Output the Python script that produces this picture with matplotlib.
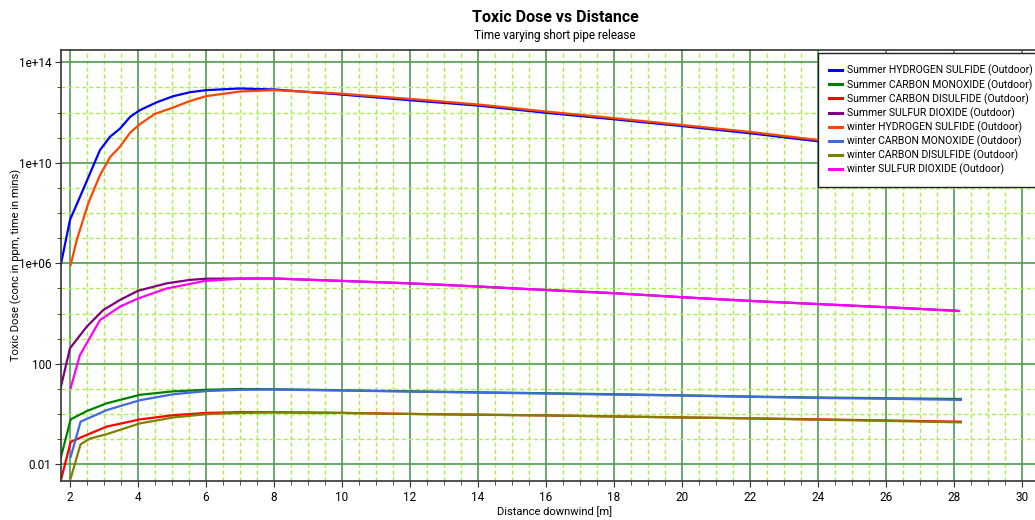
import numpy as np
import matplotlib
matplotlib.use('Agg')
import matplotlib.pyplot as plt
from matplotlib.ticker import FixedLocator, MultipleLocator, FuncFormatter

plt.rcParams['font.family'] = ['Roboto', 'DejaVu Sans']

# 数据：距离 [m] 与毒性剂量
summer_x = [1.73, 2.0, 2.34, 2.88, 3.18, 3.47, 3.77, 4.06, 4.56, 5.04, 5.54, 6.0, 7.0, 8.0,
            10, 12, 14, 16, 18, 20, 22, 24, 26, 28.2]
summer_h2s = [8.9e5, 5.4e7, 6.2e8, 3.2e10, 1.1e11, 2.3e11, 6.8e11, 1.26e12, 2.6e12, 4.5e12,
              6.5e12, 7.8e12, 9.1e12, 8.3e12, 5.2e12, 3.1e12, 1.9e12, 9.8e11, 5.4e11, 2.9e11,
              1.5e11, 7.2e10, 3.5e10, 1.6e10]

winter_h2s_x = [2.02, 2.2, 2.54, 2.88, 3.18, 3.47, 3.77, 4.06, 4.5, 5.04, 5.5, 6.0, 7.0, 8.0,
                9.5, 10, 12, 14, 16, 18, 20, 22, 24, 26, 28.2]
winter_h2s = [8.7e5, 8.7e6, 2.5e8, 3.2e9, 1.7e10, 4.4e10, 1.6e11, 3.5e11, 8.9e11, 1.6e12,
              2.8e12, 4.5e12, 6.9e12, 7.8e12, 6.2e12, 5.6e12, 3.5e12, 2.1e12, 1.1e12, 6.0e11,
              3.2e11, 1.7e11, 8.1e10, 4.0e10, 1.8e10]

summer_so2_x = [1.73, 2.0, 2.49, 2.98, 3.47, 4.0, 4.84, 5.53, 6.0, 7.0, 8.0, 10, 12, 14, 16,
                18, 20, 22, 24, 26, 28.1]
summer_so2 = [12, 420, 3.0e3, 1.4e4, 3.5e4, 8.1e4, 1.6e5, 2.2e5, 2.45e5, 2.5e5, 2.5e5, 2.0e5,
              1.6e5, 1.2e5, 8.7e4, 6.5e4, 4.5e4, 3.2e4, 2.4e4, 1.8e4, 1.3e4]

winter_so2_x = [2.02, 2.29, 2.88, 3.47, 4.0, 4.84, 5.97, 7.0, 8.0, 10, 12, 14, 16, 18, 20, 22,
                24, 26, 28.15]
winter_so2 = [11, 220, 5.5e3, 1.9e4, 4.0e4, 1.0e5, 2.0e5, 2.45e5, 2.5e5, 2.0e5, 1.6e5, 1.2e5,
              8.7e4, 6.5e4, 4.5e4, 3.2e4, 2.4e4, 1.8e4, 1.26e4]

summer_co_x = [1.73, 2.02, 2.49, 3.08, 4.06, 5.04, 6.02, 7.0, 8.0, 10, 12, 14, 16, 18, 20, 22,
               24, 26, 28.2]
summer_co = [0.019, 0.62, 1.32, 2.7, 5.9, 8.1, 9.3, 10.0, 9.8, 8.9, 8.1, 7.4, 6.8, 6.2, 5.6,
             5.0, 4.6, 4.3, 4.0]

winter_co_x = [2.02, 2.31, 3.08, 4.06, 5.04, 6.02, 7.0, 8.0, 10, 12, 14, 16, 18, 20, 22, 24,
               26, 28.2]
winter_co = [0.02, 0.5, 1.45, 3.6, 6.2, 8.3, 9.3, 9.5, 8.7, 7.9, 7.2, 6.6, 6.0, 5.5, 4.9, 4.4,
             4.1, 3.7]

summer_cs2_x = [1.73, 2.02, 2.59, 3.08, 4.06, 5.04, 6.02, 7.0, 8.0, 10, 12, 14, 16, 18, 20,
                22, 24, 26, 28.2]
summer_cs2 = [0.0023, 0.079, 0.17, 0.32, 0.62, 0.91, 1.12, 1.2, 1.2, 1.12, 1.02, 0.95, 0.89,
              0.81, 0.74, 0.68, 0.62, 0.56, 0.50]

winter_cs2_x = [2.02, 2.31, 2.59, 3.08, 4.06, 5.04, 6.02, 7.0, 8.0, 10, 12, 14, 16, 18, 20,
                22, 24, 26, 28.2]
winter_cs2 = [0.0028, 0.063, 0.107, 0.16, 0.43, 0.74, 1.0, 1.12, 1.17, 1.12, 1.02, 0.95, 0.89,
              0.81, 0.74, 0.68, 0.60, 0.54, 0.47]

series = [
    ('Summer HYDROGEN SULFIDE (Outdoor)', summer_x, summer_h2s, '#0000ff'),
    ('Summer CARBON MONOXIDE (Outdoor)', summer_co_x, summer_co, '#008000'),
    ('Summer CARBON DISULFIDE (Outdoor)', summer_cs2_x, summer_cs2, '#ff0000'),
    ('Summer SULFUR DIOXIDE (Outdoor)', summer_so2_x, summer_so2, '#800080'),
    ('winter HYDROGEN SULFIDE (Outdoor)', winter_h2s_x, winter_h2s, '#ff4500'),
    ('winter CARBON MONOXIDE (Outdoor)', winter_co_x, winter_co, '#4169e1'),
    ('winter CARBON DISULFIDE (Outdoor)', winter_cs2_x, winter_cs2, '#808000'),
    ('winter SULFUR DIOXIDE (Outdoor)', winter_so2_x, winter_so2, '#ff00ff'),
]

y_ticks = [1e-2, 1e2, 1e6, 1e10, 1e14]
y_tick_labels = ['0.01', '100', '1e+06', '1e+10', '1e+14']

fig = plt.figure(figsize=(10.35, 5.2), dpi=100)
ax = fig.add_axes([61 / 1035, 1 - 481 / 520, 1 - 61 / 1035, (481 - 50) / 520])

for name, xs, ys, c in series:
    ax.plot(xs, ys, color=c, lw=1.6, label=name)

ax.set_yscale('log')
ax.set_xlim(1.735, 30.38)
ax.set_ylim(10 ** -2.66, 10 ** 14.49)

ax.xaxis.set_major_locator(MultipleLocator(2))
ax.xaxis.set_minor_locator(MultipleLocator(0.5))
ax.xaxis.set_major_formatter(FuncFormatter(lambda v, p: '%d' % v))
ax.yaxis.set_major_locator(FixedLocator(y_ticks))
ax.yaxis.set_major_formatter(FuncFormatter(lambda v, p: y_tick_labels[y_ticks.index(v)] if v in y_ticks else ''))
ax.yaxis.set_minor_locator(FixedLocator([10.0 ** k for k in range(-3, 16)]))
ax.yaxis.set_minor_formatter(FuncFormatter(lambda v, p: ''))

ax.grid(True, which='minor', color='#a6f04a', ls=(0, (3, 2)), lw=1.0)
ax.grid(True, which='major', color='#4e9e4e', ls='-', lw=1.2)
ax.set_axisbelow(True)

ax.tick_params(axis='both', which='major', labelsize=8.5, length=4, color='#333333', pad=3)
ax.tick_params(axis='both', which='minor', length=3, color='#333333')
for s in ['left', 'bottom', 'top']:
    ax.spines[s].set_color('#333333')
    ax.spines[s].set_linewidth(1.2)
ax.spines['right'].set_visible(False)

ax.set_xlabel('Distance downwind [m]', fontsize=8)
ax.xaxis.set_label_coords((555 - 61) / 974, -(506 - 481) / 431)
ax.set_ylabel('Toxic Dose (conc in ppm, time in mins)', fontsize=8)
ax.yaxis.set_label_coords(-(61 - 22) / 974, (481 - 265) / 431)

fig.text(555 / 1035, 1 - 18 / 520, 'Toxic Dose vs Distance', ha='center', va='center',
         fontsize=11.5, fontweight='bold')
fig.text(555 / 1035, 1 - 36 / 520, 'Time varying short pipe release', ha='center',
         va='center', fontsize=8.5)

leg = ax.legend(loc='upper left', bbox_to_anchor=((818 - 61) / (1035 - 61), 0.992), fontsize=7.5,
                frameon=True, fancybox=False, framealpha=1, edgecolor='#222222',
                handlelength=1.2, labelspacing=0.25, borderpad=1.1, handletextpad=0.45,
                borderaxespad=0.0)
leg.get_frame().set_linewidth(1.0)
for line in leg.get_lines():
    line.set_linewidth(2.2)

fig.savefig('out.png', dpi=100)
